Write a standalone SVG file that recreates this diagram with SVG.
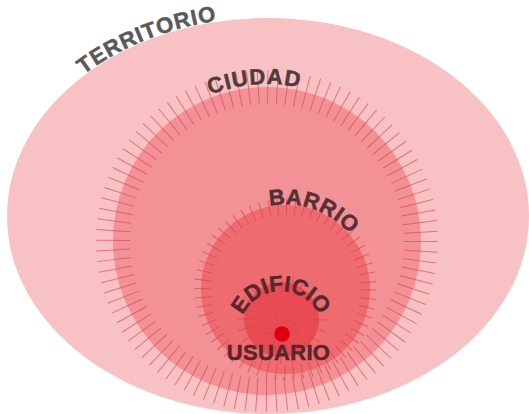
<svg xmlns="http://www.w3.org/2000/svg" width="529" height="414" viewBox="0 0 529 414">
<style>
.lbl{font-family:"Liberation Sans",Arial,sans-serif;font-weight:bold;font-size:22px;stroke-width:0.5;}
.tick{fill:none;stroke:#dc3c4a;stroke-opacity:0.6;}
</style>
<defs>
<path id="terrPath" d="M 6,216 A 262 199 0 0 1 530,216"/>
<path id="ciudPath" d="M 110,241 A 157 157 0 0 1 424,241"/>
<path id="barrPath" d="M 200.5,289.5 A 85 85 0 0 1 370.5,289.5"/>
<path id="ediPath" d="M 239,333 A 42 42 0 0 1 323,333"/>
</defs>
<rect width="529" height="414" fill="#ffffff"/>
<g id="territorio">
<ellipse cx="268" cy="216" rx="261" ry="198" fill="#f8c1c3"/>
<text class="lbl" fill="#595959" stroke="#595959" letter-spacing="1"><textPath href="#terrPath" startOffset="240" text-anchor="middle">TERRITORIO</textPath></text>
</g>
<g id="ciudad">
<circle cx="267" cy="241" r="154" fill="#f29196"/>
<circle class="tick" cx="267" cy="241" r="154" stroke-width="34" stroke-dasharray="1 8.676"/>
<text class="lbl" fill="#4e3c3e" stroke="#4e3c3e" letter-spacing="1"><textPath href="#ciudPath" startOffset="234" text-anchor="middle">CIUDAD</textPath></text>
</g>
<g id="barrio">
<circle cx="285.5" cy="289.5" r="84.5" fill="#ee6b70"/>
<circle class="tick" cx="285.5" cy="289.5" r="83" stroke-width="16" stroke-dasharray="1 7.69"/>
<text class="lbl" fill="#553035" stroke="#553035" letter-spacing="0.5"><textPath href="#barrPath" startOffset="162" text-anchor="middle">BARRIO</textPath></text>
</g>
<g id="edificio">
<circle cx="281.5" cy="319.5" r="37.5" fill="#e84b52"/>
<circle class="tick" cx="281.5" cy="319.5" r="36.5" stroke-width="17" stroke-dasharray="0.8 8.75"/>
<text class="lbl" fill="#55282c" stroke="#55282c" letter-spacing="0"><textPath href="#ediPath" startOffset="50%" text-anchor="middle">EDIFICIO</textPath></text>
</g>
<g id="usuario">
<circle class="tick" cx="282" cy="334" r="13.5" stroke-width="9" stroke-dasharray="0.6 4.7"/>
<circle cx="282" cy="334" r="7.8" fill="#e0000f"/>
<text class="lbl" x="278.5" y="360" text-anchor="middle" letter-spacing="0.3" fill="#55262a" stroke="#55262a">USUARIO</text>
</g>
<g id="connectors"/>
</svg>
